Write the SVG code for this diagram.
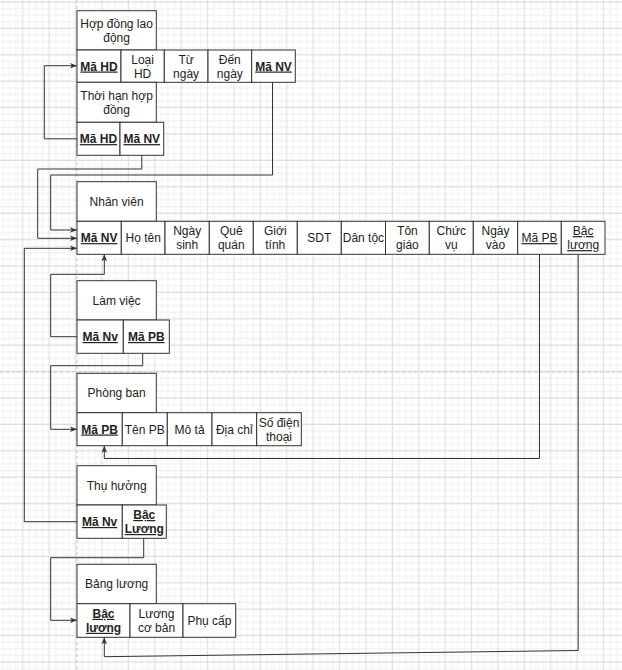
<svg xmlns="http://www.w3.org/2000/svg" width="622" height="670" viewBox="0 0 622 670">
<style>
.box{fill:#fff;stroke:#333;stroke-width:1}
.t{font-family:"Liberation Sans",Arial,Helvetica,sans-serif;font-size:12px;fill:#222;text-anchor:middle}
.k{font-weight:bold;text-decoration:underline}
.u{text-decoration:underline}
.c{fill:none;stroke:#333;stroke-width:1}
.pg{fill:none;stroke:#c8c8c8;stroke-width:1;stroke-dasharray:3 3}
</style>
<defs>
<pattern id="grid" patternUnits="userSpaceOnUse" x="19.4" y="-1.3" width="26.4" height="26.4">
<path d="M9.9 0V26.4M16.5 0V26.4M23.1 0V26.4M0 9.9H26.4M0 16.5H26.4M0 23.1H26.4" fill="none" stroke="#f1f1f1" stroke-width="1"/>
<path d="M3.3 0V26.4M0 3.3H26.4" fill="none" stroke="#dcdcdc" stroke-width="1"/>
</pattern>
<marker id="arr" markerUnits="userSpaceOnUse" markerWidth="8" markerHeight="8" viewBox="0 0 8 8" refX="7" refY="4" orient="auto">
<path d="M0 1.2L7 4L0 6.8L1.8 4z" fill="#333"/>
</marker>
</defs>
<rect x="0" y="0" width="622" height="670" fill="#fff"/>
<rect x="0" y="0" width="622" height="670" fill="url(#grid)"/>
<line class="pg" x1="77" y1="0" x2="77" y2="670"/>
<line class="pg" x1="0" y1="372" x2="622" y2="372"/>

<g id="hop-dong-lao-dong">
<rect class="box" x="77" y="10.7" width="79.3" height="39.3"/>
<text class="t" x="116.6" y="27.5">Hợp đồng lao</text>
<text class="t" x="116.6" y="41.5">động</text>
<rect class="box" x="77" y="50" width="44" height="32.3"/>
<rect class="box" x="121" y="50" width="43.3" height="32.3"/>
<rect class="box" x="164.3" y="50" width="43.7" height="32.3"/>
<rect class="box" x="208" y="50" width="43.7" height="32.3"/>
<rect class="box" x="251.7" y="50" width="43.6" height="32.3"/>
<text class="t k" x="99" y="70.5">Mã HD</text>
<text class="t" x="142.6" y="63.5">Loại</text>
<text class="t" x="142.6" y="77.5">HD</text>
<text class="t" x="186.1" y="63.5">Từ</text>
<text class="t" x="186.1" y="77.5">ngày</text>
<text class="t" x="229.8" y="63.5">Đến</text>
<text class="t" x="229.8" y="77.5">ngày</text>
<text class="t k" x="273.5" y="70.5">Mã NV</text>
</g>

<g id="thoi-han-hop-dong">
<rect class="box" x="77" y="82.3" width="79.3" height="40"/>
<text class="t" x="116.6" y="99.5">Thời hạn hợp</text>
<text class="t" x="116.6" y="113.5">đồng</text>
<rect class="box" x="77" y="122.3" width="43" height="33"/>
<rect class="box" x="120" y="122.3" width="43.7" height="33"/>
<text class="t k" x="98.5" y="143.1">Mã HD</text>
<text class="t k" x="141.8" y="143.1">Mã NV</text>
</g>

<g id="nhan-vien">
<rect class="box" x="77" y="181.7" width="79.3" height="39.6"/>
<text class="t" x="116.6" y="205.8">Nhân viên</text>
<rect class="box" x="77" y="221.3" width="44.3" height="33"/>
<rect class="box" x="121.3" y="221.3" width="43.7" height="33"/>
<rect class="box" x="165" y="221.3" width="44.3" height="33"/>
<rect class="box" x="209.3" y="221.3" width="44" height="33"/>
<rect class="box" x="253.3" y="221.3" width="44" height="33"/>
<rect class="box" x="297.3" y="221.3" width="44" height="33"/>
<rect class="box" x="341.3" y="221.3" width="44.2" height="33"/>
<rect class="box" x="385.5" y="221.3" width="43.8" height="33"/>
<rect class="box" x="429.3" y="221.3" width="44" height="33"/>
<rect class="box" x="473.3" y="221.3" width="44.4" height="33"/>
<rect class="box" x="517.7" y="221.3" width="43.6" height="33"/>
<rect class="box" x="561.3" y="221.3" width="43.7" height="33"/>
<text class="t k" x="99.2" y="242.1">Mã NV</text>
<text class="t" x="143.2" y="242.1">Họ tên</text>
<text class="t" x="187.2" y="235.1">Ngày</text>
<text class="t" x="187.2" y="249.1">sinh</text>
<text class="t" x="231.3" y="235.1">Quê</text>
<text class="t" x="231.3" y="249.1">quán</text>
<text class="t" x="275.3" y="235.1">Giới</text>
<text class="t" x="275.3" y="249.1">tính</text>
<text class="t" x="319.3" y="242.1">SDT</text>
<text class="t" x="363.4" y="242.1">Dân tộc</text>
<text class="t" x="407.4" y="235.1">Tôn</text>
<text class="t" x="407.4" y="249.1">giáo</text>
<text class="t" x="451.3" y="235.1">Chức</text>
<text class="t" x="451.3" y="249.1">vụ</text>
<text class="t" x="495.5" y="235.1">Ngày</text>
<text class="t" x="495.5" y="249.1">vào</text>
<text class="t u" x="539.5" y="242.1">Mã PB</text>
<text class="t u" x="583.2" y="235.1">Bậc</text>
<text class="t u" x="583.2" y="249.1">lương</text>
</g>

<g id="lam-viec">
<rect class="box" x="77" y="280.7" width="79.3" height="39.3"/>
<text class="t" x="116.6" y="304.6">Làm việc</text>
<rect class="box" x="77" y="320" width="46.3" height="33.3"/>
<rect class="box" x="123.3" y="320" width="46" height="33.3"/>
<text class="t k" x="100.2" y="341">Mã Nv</text>
<text class="t k" x="146.3" y="341">Mã PB</text>
</g>

<g id="phong-ban">
<rect class="box" x="77" y="373.3" width="79.3" height="39.4"/>
<text class="t" x="116.6" y="397.3">Phòng ban</text>
<rect class="box" x="77" y="412.7" width="45.3" height="33"/>
<rect class="box" x="122.3" y="412.7" width="45" height="33"/>
<rect class="box" x="167.3" y="412.7" width="44.7" height="33"/>
<rect class="box" x="212" y="412.7" width="44.7" height="33"/>
<rect class="box" x="256.7" y="412.7" width="44.6" height="33"/>
<text class="t k" x="99.6" y="433.5">Mã PB</text>
<text class="t" x="144.8" y="433.5">Tên PB</text>
<text class="t" x="189.6" y="433.5">Mô tả</text>
<text class="t" x="234.3" y="433.5">Địa chỉ</text>
<text class="t" x="279" y="426.5">Số điện</text>
<text class="t" x="279" y="440.5">thoại</text>
</g>

<g id="thu-huong">
<rect class="box" x="77" y="465.7" width="79.3" height="39.3"/>
<text class="t" x="116.6" y="489.6">Thụ hưởng</text>
<rect class="box" x="77" y="505" width="45.3" height="33.3"/>
<rect class="box" x="122.3" y="505" width="44" height="33.3"/>
<text class="t k" x="99.6" y="526">Mã Nv</text>
<text class="t k" x="144.3" y="519">Bậc</text>
<text class="t k" x="144.3" y="533">Lương</text>
</g>

<g id="bang-luong">
<rect class="box" x="77" y="564.3" width="79.3" height="39.4"/>
<text class="t" x="116.6" y="588.3">Bảng lương</text>
<rect class="box" x="77" y="603.7" width="53" height="33.6"/>
<rect class="box" x="130" y="603.7" width="53" height="33.6"/>
<rect class="box" x="183" y="603.7" width="52.7" height="33.6"/>
<text class="t k" x="103.5" y="617.8">Bậc</text>
<text class="t k" x="103.5" y="631.8">lương</text>
<text class="t" x="156.5" y="617.8">Lương</text>
<text class="t" x="156.5" y="631.8">cơ bản</text>
<text class="t" x="209.4" y="624.8">Phụ cấp</text>
</g>

<g id="connectors">
<path class="c" marker-end="url(#arr)" d="M77 138.8H44.3V65.7H77"/>
<path class="c" marker-end="url(#arr)" d="M141.8 155.3V169H37.7V238.3H77"/>
<path class="c" marker-end="url(#arr)" d="M272.5 82.3V175H50.7V230H77"/>
<path class="c" marker-end="url(#arr)" d="M77 521.7H24.3V248.3H77"/>
<path class="c" marker-end="url(#arr)" d="M77 336.7H50.7V274.3H104.3V254.3"/>
<path class="c" marker-end="url(#arr)" d="M142.7 353.3V365.7H50.7V429.3H77"/>
<path class="c" marker-end="url(#arr)" d="M539.5 254.3V458.5H104.3V445.7"/>
<path class="c" marker-end="url(#arr)" d="M143.7 538.3V557.7H50.7V620.3H77"/>
<path class="c" marker-end="url(#arr)" d="M578.2 254.3V650.5L104.3 656.7V637.3"/>
</g>
</svg>
